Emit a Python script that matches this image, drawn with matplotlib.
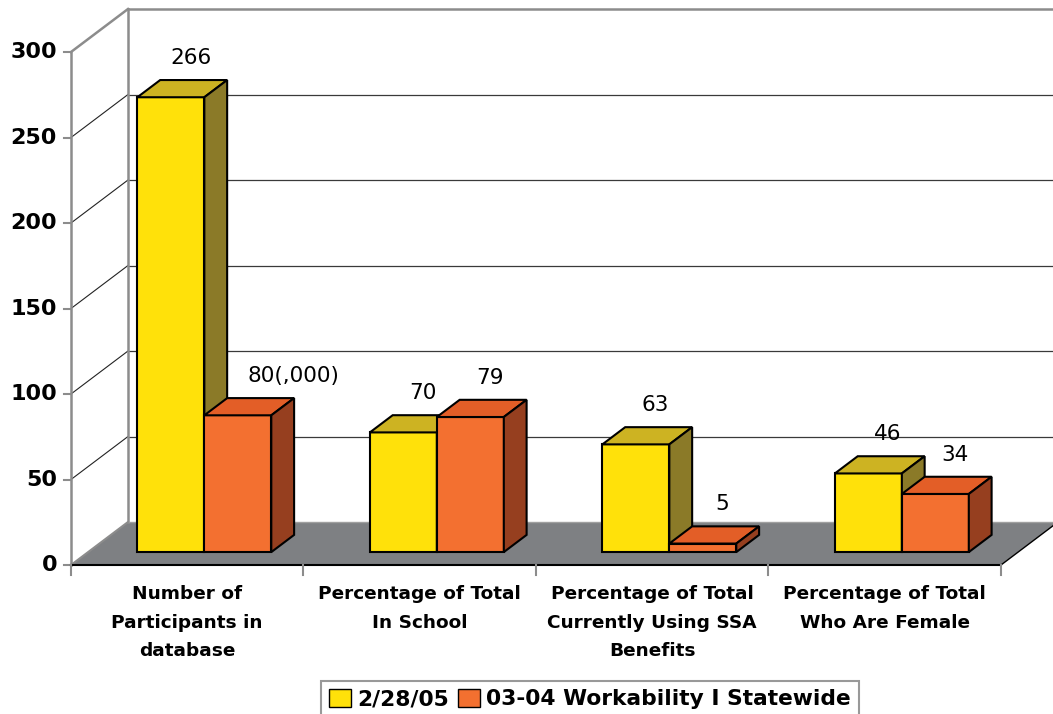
import matplotlib.pyplot as plt
from matplotlib.patches import Polygon, Patch

categories = ["Number of\nParticipants in\ndatabase",
              "Percentage of Total\nIn School",
              "Percentage of Total\nCurrently Using SSA\nBenefits",
              "Percentage of Total\nWho Are Female"]
series_names = ["2/28/05", "03-04 Workability I Statewide"]
vals_2005 = [266, 70, 63, 46]
vals_0304 = [80, 79, 5, 34]
labels_2005 = ["266", "70", "63", "46"]
labels_0304 = ["80(,000)", "79", "5", "34"]
yticks = [0, 50, 100, 150, 200, 250, 300]

# colours: front, top, side
YEL = ("#FFE10A", "#CDB322", "#8B7A28")
ORA = ("#F37030", "#E35E27", "#963F1F")
FLOOR = "#7E8083"
FRAME = "#8C8C8C"

# depth projection in data units (category units / value units)
DX = 57 / 232.5
DY = 43 / 1.71
F, B = 0.3, 0.7          # bar front / back depth fraction
W = 0.288                # bar width

fig = plt.figure(figsize=(10.53, 7.14), dpi=100)
ax = fig.add_axes([0, 0, 1, 1])
ax.set_xlim(-71 / 232.5, (1053 - 71) / 232.5)
ax.set_ylim(-(714 - 565) / 1.71, 565 / 1.71)
ax.axis("off")
xmax = ax.get_xlim()[1]
ymax = yticks[-1]
n = len(categories)

# floor
ax.add_patch(Polygon([(0, 0), (n, 0), (n + DX, DY), (DX, DY)],
                     closed=True, facecolor=FLOOR, edgecolor="none", zorder=1))
ax.plot([n, n + DX], [0, DY], color="black", lw=1, zorder=2)
ax.plot([DX, xmax], [DY, DY], color="#A0A0A0", lw=1, zorder=2)

# walls and gridlines
for v in yticks[1:-1]:
    ax.plot([DX, xmax], [v + DY, v + DY], color="#3A3A3A", lw=0.9, zorder=1)
    ax.plot([0, DX], [v, v + DY], color="#222222", lw=0.8, zorder=1)
ax.plot([DX, xmax], [ymax + DY, ymax + DY], color=FRAME, lw=1.8, zorder=1)
ax.plot([0, DX], [ymax, ymax + DY], color=FRAME, lw=1.8, zorder=1)
ax.plot([0, DX], [0, DY], color=FRAME, lw=1.5, zorder=2)
ax.plot([DX, DX], [DY, ymax + DY], color=FRAME, lw=1.8, zorder=1)

# front axes
ax.plot([0, 0], [0, ymax], color=FRAME, lw=1.8, zorder=2)
for v in yticks:
    ax.plot([-0.03, 0], [v, v], color=FRAME, lw=1.5, zorder=2)
    ax.text(-0.06, v, str(v), ha="right", va="center", fontsize=16,
            fontweight="bold")
ax.plot([0, n], [0, 0], color="black", lw=1.5, zorder=2)
for i in range(n + 1):
    ax.plot([i, i], [0, -6], color=FRAME, lw=1.5, zorder=2)
for i, c in enumerate(categories):
    ax.text(i + 0.5, -11.8, c, ha="center", va="top", fontsize=13.3,
            fontweight="bold", linespacing=1.75)


def bar3d(x0, h, cols):
    f, fy = F * DX, F * DY
    b, by = B * DX, B * DY
    ax.bar(x0 + f, h, width=W, bottom=fy, align="edge", color=cols[0],
           edgecolor="black", linewidth=1.5, zorder=3)
    ax.add_patch(Polygon([(x0 + f, h + fy), (x0 + W + f, h + fy),
                          (x0 + W + b, h + by), (x0 + b, h + by)],
                         closed=True, facecolor=cols[1], edgecolor="black",
                         lw=1.5, zorder=3))
    ax.add_patch(Polygon([(x0 + W + f, fy), (x0 + W + b, by),
                          (x0 + W + b, h + by), (x0 + W + f, h + fy)],
                         closed=True, facecolor=cols[2], edgecolor="black",
                         lw=1.5, zorder=3))


def value_label(xc, h, text, num):
    x = xc + F * DX + 0.085
    y = h + B * DY + 13
    if text != str(num):
        ax.text(x - 0.045, y, text, ha="left", va="center", fontsize=15.5)
    else:
        ax.text(x, y, text, ha="center", va="center", fontsize=15.5)


for i in range(n):
    x_y = i + 0.5 - W
    x_o = i + 0.5
    bar3d(x_y, vals_2005[i], YEL)
    bar3d(x_o, vals_0304[i], ORA)
    value_label(x_y + W / 2, vals_2005[i], labels_2005[i], vals_2005[i])
    value_label(x_o + W / 2, vals_0304[i], labels_0304[i], vals_0304[i])

handles = [Patch(facecolor=YEL[0], edgecolor="black", lw=1),
           Patch(facecolor=ORA[0], edgecolor="black", lw=1)]
leg = fig.legend(handles, series_names, ncol=2, loc="upper center",
                 bbox_to_anchor=(590 / 1053, 1 - 681 / 714), frameon=True,
                 fancybox=False, edgecolor="#808080",
                 prop={"weight": "bold", "size": 15.7},
                 handlelength=1.0, handleheight=0.9, handletextpad=0.3,
                 columnspacing=0.4, borderpad=0.35, borderaxespad=0)
leg.get_frame().set_linewidth(1.5)

fig.savefig("out.png", dpi=100)
